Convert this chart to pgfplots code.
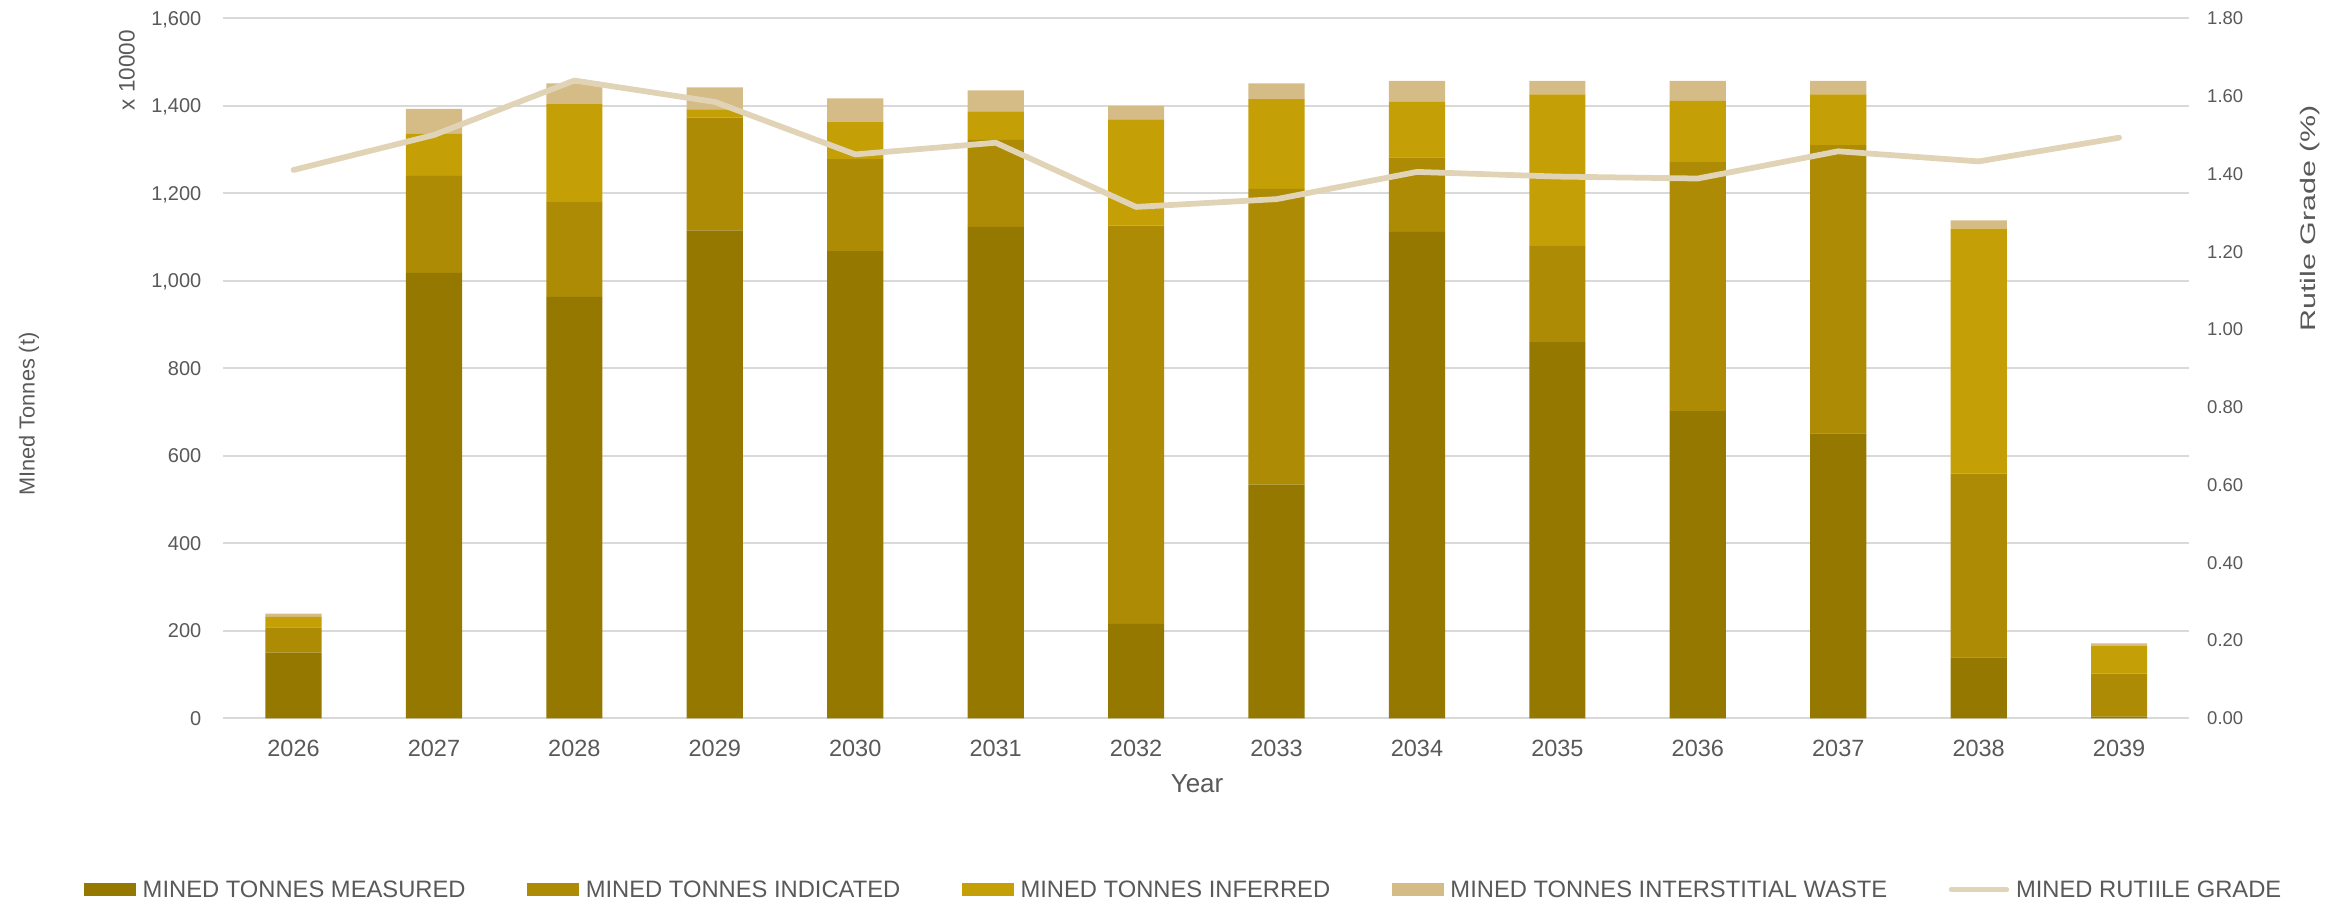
\documentclass[border=0pt]{standalone}
\usepackage{fontspec}
\setmainfont{Liberation Sans}
\usepackage{graphicx}
\usepackage{pgfplots}
\pgfplotsset{compat=1.18}
\definecolor{cMeas}{HTML}{957800}
\definecolor{cInd}{HTML}{AD8B05}
\definecolor{cInf}{HTML}{C59F06}
\definecolor{cWaste}{HTML}{D5BB85}
\definecolor{cLine}{HTML}{E1D4B6}
\definecolor{txt}{HTML}{595959}
\definecolor{gridgray}{HTML}{D9D9D9}
\newcommand{\fs}[1]{\fontsize{#1}{#1}\selectfont}
\begin{document}
\begin{tikzpicture}
\useasboundingbox (-89.32pt,-73.88pt) rectangle (849.08pt,287.32pt);
\begin{axis}[
  at={(0,0)}, anchor=south west,
  width=786.4pt, height=280pt, scale only axis,
  xmin=-0.5, xmax=13.5, ymin=0, ymax=1600,
  ybar stacked, bar width=0.4,
  xtick={0,1,2,3,4,5,6,7,8,9,10,11,12,13},
  xticklabels={2026,2027,2028,2029,2030,2031,2032,2033,2034,2035,2036,2037,2038,2039},
  ytick={0,200,400,600,800,1000,1200,1400,1600},
  axis x line*=bottom, axis y line*=left,
  axis line style={draw=none},
  major tick length=0pt,
  ymajorgrids, grid style={gridgray, line width=0.7pt},
  x tick label style={font=\fs{9.4pt}, text=txt, anchor=center, inner sep=0pt, yshift=-11.9pt},
  y tick label style={font=\fs{8pt}, text=txt, anchor=east, inner sep=0pt, xshift=-8.6pt, text depth=0pt},
  /pgf/number format/1000 sep={,},
  /pgf/number format/assume math mode=true,
]
\addplot[fill=cMeas, draw=none] coordinates {(0,150) (1,1018) (2,963) (3,1115) (4,1068) (5,1123) (6,216) (7,534) (8,1112) (9,860) (10,702) (11,651) (12,139) (13,4)};
\addplot[fill=cInd, draw=none] coordinates {(0,58) (1,222) (2,217) (3,258) (4,210) (5,199) (6,910) (7,676) (8,170) (9,219) (10,569) (11,659) (12,420) (13,98)};
\addplot[fill=cInf, draw=none] coordinates {(0,24) (1,96) (2,224) (3,19) (4,86) (5,65) (6,243) (7,205) (8,127) (9,347) (10,140) (11,116) (12,560) (13,64)};
\addplot[fill=cWaste, draw=none] coordinates {(0,7) (1,57) (2,47) (3,50) (4,53) (5,48) (6,31) (7,36) (8,48) (9,31) (10,46) (11,31) (12,19) (13,5)};
\end{axis}
\begin{axis}[
  at={(0,0)}, anchor=south west,
  width=786.4pt, height=280pt, scale only axis,
  xmin=-0.5, xmax=13.5, ymin=0, ymax=1.8,
  axis x line=none, axis y line*=right,
  axis line style={draw=none},
  major tick length=0pt,
  ytick={0,0.2,0.4,0.6,0.8,1,1.2,1.4,1.6,1.8},
  y tick label style={font=\fs{7.4pt}, text=txt, anchor=west, inner sep=0pt, xshift=6.96pt,
    /pgf/number format/.cd, fixed, fixed zerofill, precision=2, assume math mode=true},
  legend columns=5,
  legend cell align=left,
  legend style={at={(-0.07086,-0.2475)}, anchor=west, draw=none, fill=none, inner sep=0pt, outer sep=0pt,
    font=\fs{9.5pt}, nodes={text=txt, inner sep=0pt},
    /tikz/every odd column/.append style={column sep=2.7pt},
    /tikz/every even column/.append style={column sep=24.6pt}},
]
\addlegendimage{legend image code/.code={\fill[cMeas] (0pt,-1.6pt) rectangle (20.4pt,3.2pt);}}
\addlegendentry{MINED TONNES MEASURED}
\addlegendimage{legend image code/.code={\fill[cInd] (0pt,-1.6pt) rectangle (20.4pt,3.2pt);}}
\addlegendentry{MINED TONNES INDICATED}
\addlegendimage{legend image code/.code={\fill[cInf] (0pt,-1.6pt) rectangle (20.4pt,3.2pt);}}
\addlegendentry{MINED TONNES INFERRED}
\addlegendimage{legend image code/.code={\fill[cWaste] (0pt,-1.6pt) rectangle (20.4pt,3.2pt);}}
\addlegendentry{MINED TONNES INTERSTITIAL WASTE}
\addplot[color=cLine, line width=2.3pt, line join=round, line cap=round, mark=none,
  legend image code/.code={\path (0pt,0.8pt) -- (21.9pt,0.8pt); \draw[cLine, line width=2.3pt, line cap=round] (1.15pt,0.8pt) -- (20.75pt,0.8pt);}]
  coordinates {(0,1.41) (1,1.50) (2,1.64) (3,1.585) (4,1.45) (5,1.48) (6,1.315) (7,1.335) (8,1.405) (9,1.393) (10,1.388) (11,1.458) (12,1.432) (13,1.493)};
\addlegendentry{MINED RUTIILE GRADE}
\end{axis}
\node[rotate=90, text=txt, font=\fs{9pt}, inner sep=0pt] at (-38.6pt,259.3pt) {x 10000};
\node[rotate=90, text=txt, font=\fs{8.7pt}, inner sep=0pt] at (-77.7pt,121.7pt) {MIned Tonnes (t)};
\node[rotate=90, text=txt, font=\fs{8.4pt}, inner sep=0pt] at (834.7pt,200pt) {\scalebox{1.45}[1]{Rutile Grade (\%)}};
\node[text=txt, font=\fs{10.4pt}, inner sep=0pt] at (389.5pt,-26.3pt) {Year};
\end{tikzpicture}
\end{document}
